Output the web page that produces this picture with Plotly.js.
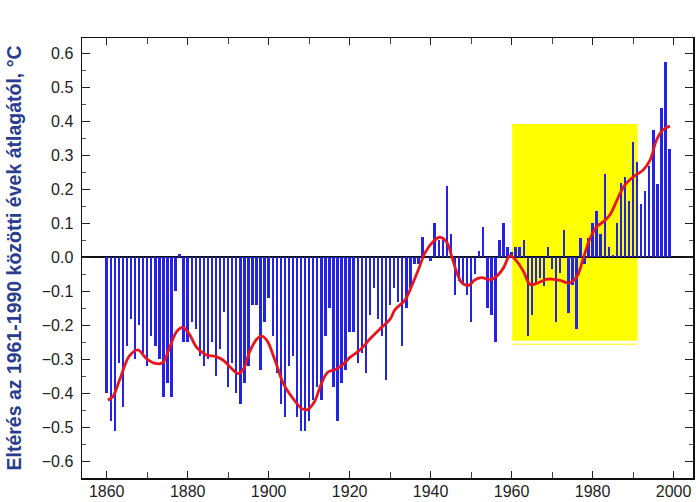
<!DOCTYPE html>
<html><head><meta charset="utf-8">
<script src="https://cdn.plot.ly/plotly-3.0.1.min.js"></script>
<style>html,body{margin:0;padding:0;background:#fff}#chart{width:696px;height:502px}</style>
</head><body><div id="chart"></div>
<script>
const years = [1860,1861,1862,1863,1864,1865,1866,1867,1868,1869,
1870,1871,1872,1873,1874,1875,1876,1877,1878,1879,
1880,1881,1882,1883,1884,1885,1886,1887,1888,1889,
1890,1891,1892,1893,1894,1895,1896,1897,1898,1899,
1900,1901,1902,1903,1904,1905,1906,1907,1908,1909,
1910,1911,1912,1913,1914,1915,1916,1917,1918,1919,
1920,1921,1922,1923,1924,1925,1926,1927,1928,1929,
1930,1931,1932,1933,1934,1935,1936,1937,1938,1939,
1940,1941,1942,1943,1944,1945,1946,1947,1948,1949,
1950,1951,1952,1953,1954,1955,1956,1957,1958,1959,
1960,1961,1962,1963,1964,1965,1966,1967,1968,1969,
1970,1971,1972,1973,1974,1975,1976,1977,1978,1979,
1980,1981,1982,1983,1984,1985,1986,1987,1988,1989,
1990,1991,1992,1993,1994,1995,1996,1997,1998,1999];

const anomalies = [-0.40,-0.48,-0.51,-0.31,-0.44,-0.26,-0.18,-0.30,-0.20,-0.28,
-0.32,-0.23,-0.26,-0.30,-0.41,-0.37,-0.41,-0.10,0.01,-0.25,
-0.25,-0.19,-0.21,-0.29,-0.32,-0.30,-0.25,-0.35,-0.27,-0.16,
-0.38,-0.31,-0.40,-0.43,-0.37,-0.32,-0.14,-0.14,-0.33,-0.19,
-0.12,-0.23,-0.34,-0.43,-0.47,-0.32,-0.29,-0.47,-0.51,-0.51,
-0.48,-0.42,-0.38,-0.42,-0.23,-0.15,-0.38,-0.48,-0.37,-0.33,
-0.22,-0.22,-0.31,-0.28,-0.34,-0.17,-0.09,-0.18,-0.23,-0.36,
-0.14,-0.09,-0.13,-0.26,-0.15,-0.09,-0.02,-0.02,0.06,0.00,
-0.01,0.10,0.05,0.05,0.21,0.07,-0.11,-0.07,-0.08,-0.11,
-0.19,-0.05,0.02,0.09,-0.15,-0.17,-0.25,0.05,0.10,0.03,
0.015,0.03,0.03,0.05,-0.23,-0.17,-0.075,-0.06,-0.085,0.03,
-0.035,-0.19,-0.045,0.08,-0.165,-0.08,-0.21,0.056,-0.02,0.056,
0.10,0.136,0.07,0.245,0.03,0.007,0.10,0.22,0.235,0.167,
0.34,0.28,0.157,0.195,0.27,0.375,0.215,0.44,0.573,0.32];

const smoothYears = [1860.3,1861.5,1863.2,1865.6,1867.7,1869.8,1872.0,1873.8,1875.4,1877.3,
1878.8,1880.4,1882.3,1884.6,1887.0,1888.7,1890.7,1892.5,1893.8,1895.4,
1897.1,1898.3,1899.6,1901.6,1903.7,1906.0,1908.2,1909.6,1911.3,1912.9,
1914.6,1916.5,1918.1,1920.0,1922.6,1925.0,1927.7,1930.0,1931.2,1933.7,
1935.3,1937.0,1938.6,1940.7,1942.3,1944.0,1945.2,1946.5,1947.7,1949.3,
1951.0,1952.6,1954.7,1956.3,1958.0,1959.6,1961.3,1962.9,1964.6,1966.5,
1968.5,1970.0,1972.0,1974.2,1976.1,1977.7,1979.4,1981.0,1982.7,1984.3,
1986.4,1988.0,1990.1,1992.5,1994.2,1995.8,1997.4,1999.1];
const smoothValues = [-0.42,-0.41,-0.36,-0.29,-0.272,-0.298,-0.312,-0.31,-0.27,-0.218,
-0.206,-0.226,-0.266,-0.287,-0.292,-0.302,-0.325,-0.342,-0.328,-0.275,
-0.24,-0.232,-0.245,-0.304,-0.373,-0.415,-0.445,-0.448,-0.425,-0.375,
-0.338,-0.33,-0.318,-0.295,-0.272,-0.24,-0.208,-0.182,-0.154,-0.125,
-0.085,-0.036,0.013,0.047,0.059,0.044,0.003,-0.046,-0.075,-0.083,
-0.066,-0.06,-0.066,-0.056,-0.031,0.005,-0.012,-0.041,-0.08,-0.075,
-0.065,-0.064,-0.068,-0.075,-0.057,-0.003,0.056,0.09,0.105,0.125,
0.178,0.213,0.237,0.257,0.286,0.345,0.375,0.386];

const xTickVals = [1860,1880,1900,1920,1940,1960,1980,2000];
const xTickText = ['1860','1880','1900','1920','1940','1960','1980','2000'];
const yTickVals = [-0.6,-0.5,-0.4,-0.3,-0.2,-0.1,0,0.1,0.2,0.3,0.4,0.5,0.6];
const yTickText = ['\u22120.6','\u22120.5','\u22120.4','\u22120.3','\u22120.2','\u22120.1','0.0','0.1','0.2','0.3','0.4','0.5','0.6'];
const yTitle = 'Eltérés az 1961-1990 közötti évek átlagától, °C';

const traces = [
  {type:'bar', x:years, y:anomalies, width:0.6,
   marker:{color:'#2323e6', line:{width:0}}, hoverinfo:'x+y'},
  {type:'scatter', mode:'lines', x:smoothYears, y:smoothValues,
   line:{color:'#e8161c', width:2.8, shape:'spline', smoothing:1}}
];

const layout = {
  width:696, height:502,
  margin:{l:82, r:3, t:38, b:24},
  paper_bgcolor:'#fff', plot_bgcolor:'#fff',
  showlegend:false, bargap:0,
  font:{family:'Liberation Sans, Arial, sans-serif', color:'#222'},
  xaxis:{range:[1853.9,2004.8], tickmode:'array', tickvals:xTickVals, ticktext:xTickText,
    ticks:'inside', ticklen:7, tickcolor:'#222', tickwidth:1,
    minor:{tickmode:'linear', tick0:1860, dtick:10, ticks:'inside', ticklen:6, tickcolor:'#444'},
    showline:true, linecolor:'#111', linewidth:1.5, mirror:'allticks',
    showgrid:false, zeroline:false, tickfont:{size:16, color:'#222'}, ticklabelstandoff:-2},
  yaxis:{range:[-0.649,0.645], tickmode:'array', tickvals:yTickVals, ticktext:yTickText,
    ticks:'inside', ticklen:8, tickcolor:'#222', tickwidth:1,
    minor:{tickmode:'linear', tick0:0, dtick:0.05, ticks:'inside', ticklen:4, tickcolor:'#555'},
    showline:true, linecolor:'#111', linewidth:1.5, mirror:'allticks',
    showgrid:false, zeroline:true, zerolinecolor:'#111', zerolinewidth:2,
    tickfont:{size:16, color:'#222'}, ticklabelstandoff:4,
    title:{text:yTitle, standoff:15, font:{size:19.5, color:'#2a3d8f', family:'Liberation Sans, Arial, sans-serif', weight:'bold'}}},
  shapes:[
    {type:'rect', xref:'x', yref:'y', x0:1960.15, x1:1991.1, y0:-0.245, y1:0.392,
     fillcolor:'#ffff00', line:{width:0}, layer:'below'},
    {type:'line', xref:'x', yref:'y', x0:1960.15, x1:1991.1, y0:-0.256, y1:-0.256,
     line:{color:'#ffff55', width:1.5}, layer:'below'}
  ]
};

Plotly.newPlot('chart', traces, layout, {displayModeBar:false, staticPlot:true});
</script></body></html>
